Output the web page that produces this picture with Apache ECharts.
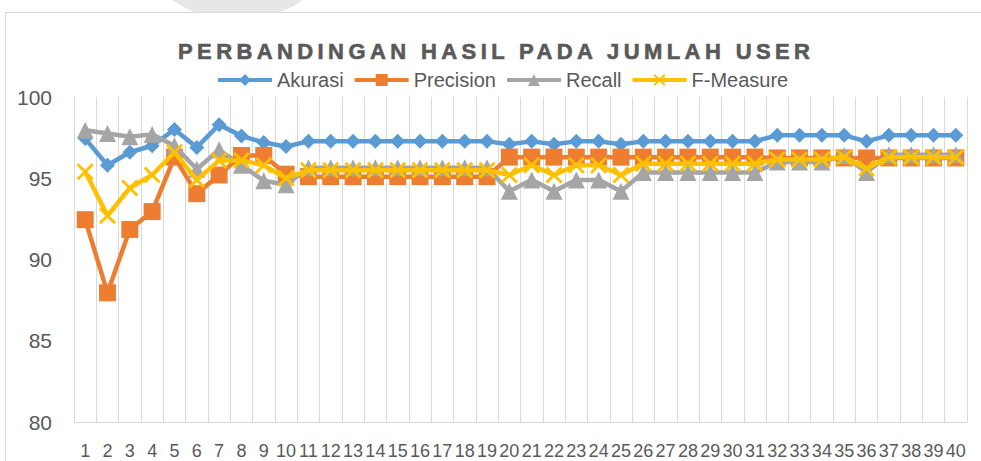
<!DOCTYPE html>
<html>
<head>
<meta charset="utf-8">
<style>
html,body{margin:0;padding:0;background:#fff;}
#chart{width:981px;height:461px;}
</style>
<script src="https://cdn.jsdelivr.net/npm/echarts/dist/echarts.min.js"></script>
</head>
<body>
<div id="chart"></div>
<script>
var TITLE = 'PERBANDINGAN HASIL PADA JUMLAH USER';
var categories = ['1','2','3','4','5','6','7','8','9','10','11','12','13','14','15','16','17','18','19','20',
                  '21','22','23','24','25','26','27','28','29','30','31','32','33','34','35','36','37','38','39','40'];
var akurasi = [97.44, 95.8, 96.6, 97.0, 98.0, 96.9, 98.3, 97.6, 97.2, 96.95,
               97.27, 97.27, 97.27, 97.27, 97.27, 97.27, 97.27, 97.27, 97.27, 97.09,
               97.27, 97.09, 97.27, 97.27, 97.09, 97.27, 97.27, 97.27, 97.27, 97.27,
               97.27, 97.64, 97.64, 97.64, 97.64, 97.27, 97.64, 97.64, 97.64, 97.64];
var precision = [92.45, 87.95, 91.85, 92.95, 96.3, 94.05, 95.2, 96.4, 96.4, 95.25,
                 95.1, 95.1, 95.1, 95.1, 95.1, 95.1, 95.1, 95.1, 95.1, 96.3,
                 96.3, 96.3, 96.3, 96.3, 96.3, 96.3, 96.3, 96.3, 96.3, 96.3,
                 96.3, 96.25, 96.25, 96.25, 96.25, 96.25, 96.25, 96.25, 96.25, 96.25];
var recall = [97.95, 97.75, 97.55, 97.7, 97.0, 95.55, 96.75, 95.8, 94.85, 94.6,
              95.65, 95.65, 95.65, 95.65, 95.65, 95.65, 95.65, 95.65, 95.65, 94.2,
              94.9, 94.2, 94.9, 94.9, 94.2, 95.35, 95.35, 95.35, 95.35, 95.35,
              95.35, 96.0, 96.0, 96.0, 96.4, 95.35, 96.45, 96.45, 96.45, 96.45];
var fmeasure = [95.4, 92.7, 94.4, 95.2, 96.6, 94.9, 96.1, 96.1, 95.8, 95.0,
                95.5, 95.5, 95.5, 95.5, 95.5, 95.5, 95.5, 95.5, 95.5, 95.2,
                95.8, 95.2, 95.8, 95.8, 95.2, 95.9, 95.9, 95.9, 95.9, 95.9,
                95.9, 96.15, 96.15, 96.15, 96.3, 95.6, 96.3, 96.3, 96.3, 96.3];
var seriesNames = ['Akurasi', 'Precision', 'Recall', 'F-Measure'];
var yTicks = {min: 80, max: 100, interval: 5};

var FONT = 'Liberation Sans';
var TEXT = '#595959';
var GRIDC = '#d9d9d9';
var X_PATH = 'path://M0,1.2 L1.2,0 L5,3.8 L8.8,0 L10,1.2 L6.2,5 L10,8.8 L8.8,10 L5,6.2 L1.2,10 L0,8.8 L3.8,5 Z';

function mk(name, data, color, symbol, size, z) {
  return {
    name: name, type: 'line', data: data, z: z,
    symbol: symbol, symbolSize: size,
    lineStyle: {color: color, width: 4.5},
    itemStyle: {color: color, borderWidth: 0},
    emphasis: {disabled: true},
    animation: false
  };
}

var chart = echarts.init(document.getElementById('chart'), null, {renderer: 'svg'});
chart.setOption({
  animation: false,
  backgroundColor: '#fff',
  graphic: [
    {type: 'circle', shape: {cx: 237.5, cy: -94.5, r: 115}, style: {fill: '#e7e7e7'}, z: -10, silent: true},
    {type: 'rect', shape: {x: 5.5, y: 12.5, width: 1000, height: 500}, style: {fill: '#fff', stroke: GRIDC, lineWidth: 1}, z: -9, silent: true}
  ],
  title: {
    text: TITLE, left: 178, top: 40, padding: 0, textAlign: 'left',
    textStyle: {fontFamily: FONT, fontSize: 22, fontWeight: 'bold', color: TEXT, lineHeight: 22,
                textBorderColor: TEXT, textBorderWidth: 0.6}
  },
  legend: {
    data: seriesNames, left: 216, top: 70, padding: 0,
    itemWidth: 54, itemHeight: 15, itemGap: 9,
    lineStyle: {width: 4},
    textStyle: {fontFamily: FONT, fontSize: 20, color: TEXT, lineHeight: 20},
    selectedMode: false
  },
  grid: {left: 74, right: 14, top: 97, bottom: 39, containLabel: false, outerBoundsMode: 'none'},
  xAxis: {
    type: 'category', data: categories, boundaryGap: true,
    axisLine: {show: true, lineStyle: {color: GRIDC, width: 1}},
    axisTick: {show: false},
    splitLine: {show: true, interval: 0, lineStyle: {color: GRIDC, width: 1}},
    axisLabel: {interval: 0, fontFamily: FONT, fontSize: 18, color: TEXT, margin: 20, hideOverlap: false}
  },
  yAxis: {
    type: 'value', min: yTicks.min, max: yTicks.max, interval: yTicks.interval,
    axisLine: {show: false}, axisTick: {show: false},
    splitLine: {show: false},
    axisLabel: {fontFamily: FONT, fontSize: 21, color: TEXT, margin: 22}
  },
  series: [
    mk(seriesNames[0], akurasi, '#5B9BD5', 'diamond', 15, 2),
    mk(seriesNames[1], precision, '#ED7D31', 'rect', 17, 3),
    mk(seriesNames[2], recall, '#A5A5A5', 'triangle', 17, 4),
    mk(seriesNames[3], fmeasure, '#FFC000', X_PATH, 17, 5)
  ]
});

function spaceTitle() {
  var nodes = document.querySelectorAll('#chart text');
  for (var i = 0; i < nodes.length; i++) {
    if (nodes[i].textContent === TITLE) nodes[i].style.letterSpacing = '4.4px';
  }
}
spaceTitle();
chart.on('finished', spaceTitle);
setTimeout(spaceTitle, 0);
setTimeout(spaceTitle, 200);
</script>
</body>
</html>
